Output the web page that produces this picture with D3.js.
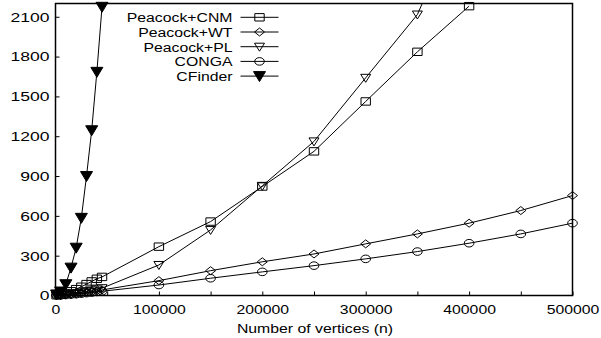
<!DOCTYPE html>
<html>
<head>
<meta charset="utf-8">
<script src="https://cdn.jsdelivr.net/npm/d3@7"></script>
<style>
  html, body { margin: 0; padding: 0; background: #fff; }
  text { font-family: "Liberation Sans", Arial, sans-serif; fill: #000; }
</style>
</head>
<body>
<div id="chart"></div>
<script>
// x values (number of vertices)
const nSmall = [1000, 5000, 10000, 15000, 20000, 25000, 30000, 35000, 40000, 45000];
const nLarge = [100000, 150000, 200000, 250000, 300000, 350000, 400000, 450000, 500000];

// running time values
const cnmValues = [2, 8, 18, 32, 48, 66, 86, 106, 126, 140, 368, 557, 821, 1086, 1462, 1836, 2180];
const wtValues = [1, 2, 5, 9, 13, 18, 23, 29, 35, 42, 112, 187, 254, 313, 389, 464, 545, 640, 753];
const plValues = [1, 3, 8, 12, 18, 24, 30, 38, 46, 55, 230, 494, 826, 1161, 1640, 2117, 3000];
const congaValues = [0.5, 1, 4, 7, 10, 14, 18, 22, 27, 32, 79, 130, 178, 225, 276, 331, 394, 464, 545];
const cfinderValues = [8, 30, 85, 210, 360, 585, 900, 1245, 1685, 2175];

const seriesNames = ['Peacock+CNM', 'Peacock+WT', 'Peacock+PL', 'CONGA', 'CFinder'];
const yTicks = [0, 300, 600, 900, 1200, 1500, 1800, 2100];
const xLabelTicks = [0, 100000, 200000, 300000, 400000, 500000];

const W = 601, H = 338;
const M = { left: 55.5, right: 572.5, top: 3.5, bottom: 295.5 };
const SX = 1.17; // text looks horizontally stretched

const nAll = nSmall.concat(nLarge);
const series = [
    { name: seriesNames[0], xs: nAll, ys: cnmValues, marker: 'square' },
    { name: seriesNames[1], xs: nAll, ys: wtValues, marker: 'diamond' },
    { name: seriesNames[2], xs: nAll, ys: plValues, marker: 'triangle' },
    { name: seriesNames[3], xs: nAll, ys: congaValues, marker: 'circle' },
    { name: seriesNames[4], xs: nSmall, ys: cfinderValues, marker: 'filled' }
];

const svg = d3.select('#chart').append('svg')
    .attr('width', W).attr('height', H)
    .attr('viewBox', `0 0 ${W} ${H}`);

const x = d3.scaleLinear().domain([0, 500000]).range([M.left, M.right]);
const y = d3.scaleLinear().domain([0, 2200]).range([M.bottom, M.top]);

svg.append('clipPath').attr('id', 'plot-clip')
    .append('rect')
    .attr('x', M.left).attr('y', M.top)
    .attr('width', M.right - M.left).attr('height', M.bottom - M.top);

// marker drawing
function drawMarker(g, type, cx, cy) {
    const s = g.append('path')
        .attr('transform', `translate(${cx},${cy})`)
        .attr('stroke', '#000').attr('stroke-width', 1)
        .attr('fill', 'none');
    if (type === 'square') s.attr('d', 'M-4.7,-3.7H4.7V3.7H-4.7Z');
    else if (type === 'diamond') s.attr('d', 'M-5,0L0,-4L5,0L0,4Z');
    else if (type === 'triangle') s.attr('d', 'M-5,-3.5H5L0,4.5Z');
    else if (type === 'circle') s.attr('d', 'M-4.8,0A4.8,3.8 0 1,0 4.8,0A4.8,3.8 0 1,0 -4.8,0Z');
    else if (type === 'filled') s.attr('d', 'M-6,-4.5H6L0,5.5Z').attr('fill', '#000');
}

// axis ticks (inward)
const xAxis = d3.axisBottom(x)
    .tickValues(d3.range(0, 500001, 50000))
    .tickSizeInner(-4).tickSizeOuter(0)
    .tickPadding(9)
    .tickFormat(d => xLabelTicks.includes(d) ? d3.format('d')(d) : '');
const gx = svg.append('g').attr('transform', `translate(0,${M.bottom})`).call(xAxis);
gx.select('.domain').remove();
gx.selectAll('line').attr('stroke', '#000');
gx.selectAll('text')
    .attr('font-size', 13.5)
    .attr('font-family', '"Liberation Sans", Arial, sans-serif')
    .attr('fill', '#000')
    .attr('transform', `scale(${SX},1)`)
    .attr('x', 0);

const yAxis = d3.axisLeft(y)
    .tickValues(yTicks)
    .tickSizeInner(-4).tickSizeOuter(0)
    .tickPadding(5)
    .tickFormat(d3.format('d'));
const gy = svg.append('g').attr('transform', `translate(${M.left},0)`).call(yAxis);
gy.select('.domain').remove();
gy.selectAll('line').attr('stroke', '#000');
gy.selectAll('text')
    .attr('font-size', 13.5)
    .attr('font-family', '"Liberation Sans", Arial, sans-serif')
    .attr('fill', '#000')
    .attr('transform', 'scale(1.3,1)')
    .attr('x', -6 / 1.3);

// data: lines clipped, markers not
const plot = svg.append('g').attr('clip-path', 'url(#plot-clip)');
const marks = svg.append('g');
const line = d3.line().x(d => x(d[0])).y(d => y(d[1]));

series.forEach(s => {
    const pts = s.ys.map((v, i) => [s.xs[i], v]);
    plot.append('path')
        .datum(pts)
        .attr('d', line)
        .attr('fill', 'none')
        .attr('stroke', '#000')
        .attr('stroke-width', 1);
    pts.filter(p => p[1] <= y.domain()[1])
        .forEach(p => drawMarker(marks, s.marker, x(p[0]), y(p[1])));
});

// frame
svg.append('rect')
    .attr('x', M.left).attr('y', M.top)
    .attr('width', M.right - M.left).attr('height', M.bottom - M.top)
    .attr('fill', 'none').attr('stroke', '#000').attr('stroke-width', 1.5);

// legend
const legend = svg.append('g');
series.forEach((s, i) => {
    const ly = 17.3 + i * 14.7;
    legend.append('text')
        .attr('transform', `translate(232.5,${ly + 4.8}) scale(${SX},1)`)
        .attr('text-anchor', 'end')
        .attr('font-size', 13.5)
        .text(s.name);
    legend.append('line')
        .attr('x1', 240.5).attr('x2', 278.5)
        .attr('y1', ly).attr('y2', ly)
        .attr('stroke', '#000').attr('stroke-width', 1);
    drawMarker(legend, s.marker, 259.5, ly);
});

// x axis title
svg.append('text')
    .attr('transform', `translate(315,333) scale(${SX},1)`)
    .attr('text-anchor', 'middle')
    .attr('font-size', 13.5)
    .text('Number of vertices (n)');
</script>
</body>
</html>
